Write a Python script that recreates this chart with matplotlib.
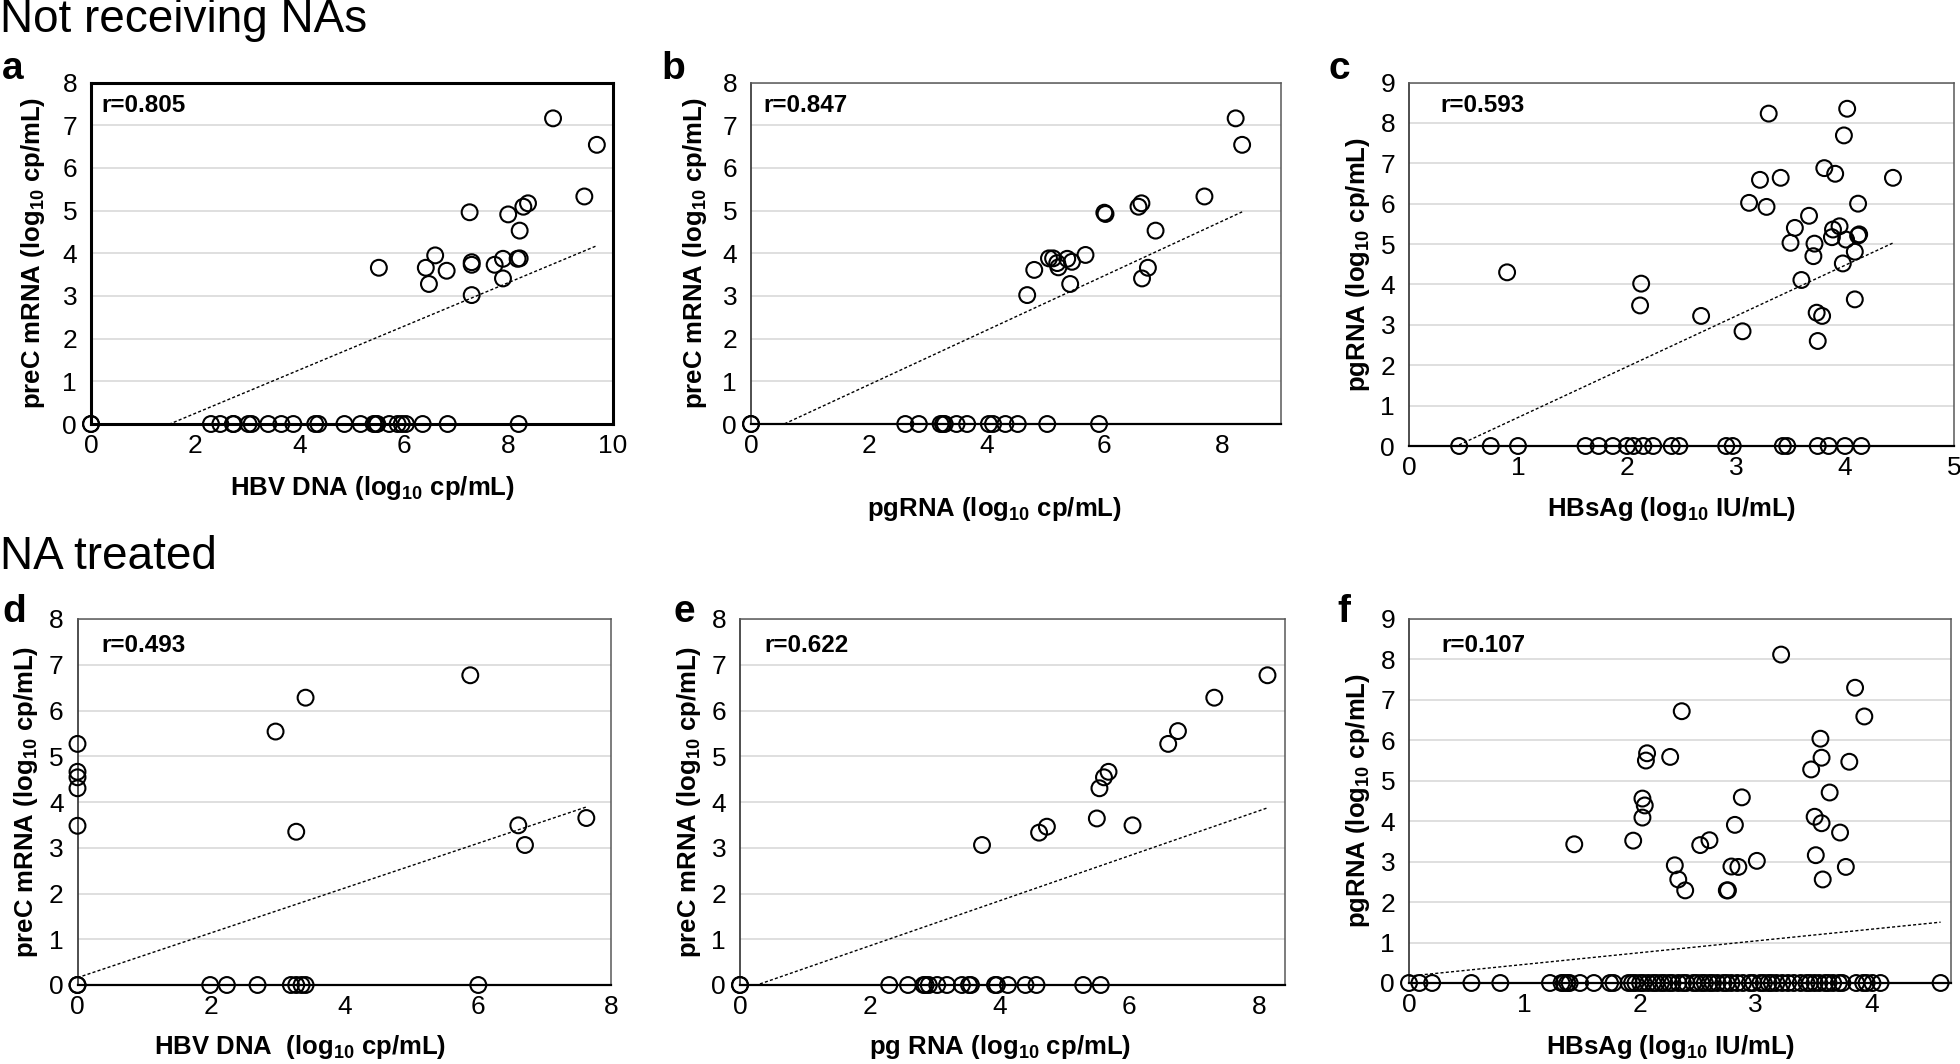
import matplotlib
matplotlib.use("Agg")
import numpy as np
import matplotlib.pyplot as plt
from matplotlib import font_manager

# ---- data (log10 values) ----
# detected points (x, y) and undetected points (x only, plotted at y = 0)
# a: HBV DNA vs preC mRNA (not receiving NAs)
a_x = [8.86, 9.70, 9.46, 7.26, 8.00, 8.29, 8.38, 8.22, 6.60, 5.52, 6.42, 6.48, 6.82,
       7.30, 7.30, 7.30, 7.74, 7.90, 7.90, 8.18, 8.22]
a_y = [7.16, 6.54, 5.33, 4.96, 4.91, 5.09, 5.17, 4.53, 3.95, 3.66, 3.66, 3.28, 3.59,
       3.79, 3.73, 3.02, 3.73, 3.87, 3.41, 3.87, 3.88]
a_zero = [0, 0, 2.30, 2.48, 2.72, 2.74, 3.02, 3.08, 3.40, 3.65, 3.88, 4.30, 4.36, 4.86,
          5.17, 5.42, 5.46, 5.49, 5.72, 5.88, 5.96, 6.04, 6.36, 6.84, 8.20]
# b: pgRNA vs preC mRNA
b_x = [8.23, 8.34, 7.70, 6.00, 6.02, 6.58, 6.63, 6.87, 5.68, 5.06, 5.13, 4.81, 5.20,
       5.22, 5.37, 5.45, 5.42, 4.69, 6.74, 6.64]
b_y = [7.16, 6.54, 5.33, 4.95, 4.92, 5.09, 5.17, 4.53, 3.96, 3.88, 3.88, 3.61, 3.77,
       3.67, 3.87, 3.80, 3.28, 3.02, 3.66, 3.41]
b_zero = [0, 0, 2.62, 2.85, 3.22, 3.26, 3.29, 3.49, 3.67, 4.04, 4.11, 4.32, 4.53, 5.03, 5.91]
# c: HBsAg vs pgRNA
c_x = [0.90, 2.13, 2.12, 2.68, 3.06, 3.12, 3.22, 3.28, 3.30, 3.41, 3.50, 3.54, 3.60,
       3.67, 3.72, 3.71, 3.74, 3.79, 3.75, 3.81, 3.91, 3.88, 3.89, 3.95, 3.99, 4.02,
       3.98, 4.01, 4.12, 4.12, 4.09, 4.09, 4.44, 4.13]
c_y = [4.30, 4.02, 3.48, 3.22, 2.84, 6.02, 6.59, 5.92, 8.23, 6.64, 5.03, 5.40, 4.11,
       5.70, 5.01, 4.70, 3.30, 3.22, 2.60, 6.88, 6.74, 5.17, 5.36, 5.44, 7.69, 8.35,
       4.52, 5.11, 5.21, 6.00, 4.81, 3.63, 6.64, 5.24]
c_zero = [0.46, 0.75, 1.00, 1.62, 1.74, 1.87, 2.00, 2.06, 2.15, 2.24, 2.41, 2.48, 2.91,
          2.97, 3.43, 3.47, 3.75, 3.85, 4.00, 4.15]
# d: HBV DNA vs preC mRNA (NA treated)
d_x = [0, 0, 0, 0, 0, 2.97, 3.42, 3.28, 5.89, 6.61, 6.71, 7.63]
d_y = [5.27, 4.66, 4.54, 4.30, 3.48, 5.54, 6.28, 3.35, 6.77, 3.49, 3.06, 3.65]
d_zero = [0, 0, 1.99, 2.24, 2.70, 3.20, 3.28, 3.36, 3.42, 6.01]
# e: pg RNA vs preC mRNA
e_x = [3.73, 4.61, 4.73, 5.50, 5.54, 5.61, 5.68, 6.05, 6.60, 6.75, 7.31, 8.13]
e_y = [3.06, 3.33, 3.46, 3.64, 4.30, 4.54, 4.66, 3.49, 5.27, 5.55, 6.28, 6.77]
e_zero = [0, 0, 2.30, 2.59, 2.83, 2.86, 2.91, 3.04, 3.19, 3.42, 3.53, 3.56, 3.93, 3.96,
          4.13, 4.40, 4.57, 5.29, 5.56]
# f: HBsAg vs pgRNA (NA treated)
f_x = [1.43, 1.94, 2.02, 2.02, 2.04, 2.05, 2.06, 2.26, 2.36, 2.30, 2.33, 2.39, 2.52,
       2.60, 2.75, 2.76, 2.79, 2.85, 2.82, 2.88, 3.01, 3.22, 3.48, 3.51, 3.52, 3.56,
       3.57, 3.57, 3.58, 3.64, 3.73, 3.78, 3.81, 3.86, 3.94]
f_y = [3.43, 3.52, 4.09, 4.56, 4.39, 5.50, 5.68, 5.59, 6.72, 2.91, 2.56, 2.29, 3.41,
       3.53, 2.29, 2.29, 2.88, 2.87, 3.91, 4.59, 3.02, 8.12, 5.28, 4.11, 3.16, 6.04,
       5.57, 3.95, 2.56, 4.71, 3.72, 2.87, 5.47, 7.30, 6.59]
f_zero = [0, 0.09, 0.20, 0.54, 0.79, 1.22, 1.32, 1.34, 1.37, 1.39, 1.48, 1.60, 1.74, 1.77,
          1.90, 1.93, 1.96, 2.00, 2.03, 2.07, 2.11, 2.14, 2.18, 2.21, 2.25, 2.28, 2.33,
          2.37, 2.40, 2.46, 2.49, 2.53, 2.56, 2.60, 2.63, 2.67, 2.72, 2.75, 2.79, 2.84,
          2.89, 2.95, 2.98, 3.04, 3.07, 3.11, 3.14, 3.18, 3.23, 3.28, 3.33, 3.39, 3.44,
          3.47, 3.51, 3.55, 3.60, 3.63, 3.67, 3.72, 3.75, 3.87, 3.93, 3.96, 4.01, 4.08, 4.60]

# linear trendlines (slope, intercept) and r values
trend = {"a": (0.510, -0.77), "b": (0.639, -0.36), "c": (1.256, -0.55),
         "d": (0.489, 0.16), "e": (0.492, -0.128), "f": (0.290, 0.17)}
r_vals = {"a": "0.805", "b": "0.847", "c": "0.593", "d": "0.493", "e": "0.622", "f": "0.107"}

sub = r"$_\mathbf{10}$"
xlabels = {"a": f"HBV DNA (log{sub} cp/mL)", "b": f"pgRNA (log{sub} cp/mL)",
           "c": f"HBsAg (log{sub} IU/mL)", "d": f"HBV DNA  (log{sub} cp/mL)",
           "e": f"pg RNA (log{sub} cp/mL)", "f": f"HBsAg (log{sub} IU/mL)"}
ylabels = {"a": f"preC mRNA (log{sub} cp/mL)", "b": f"preC mRNA (log{sub} cp/mL)",
           "c": f"pgRNA (log{sub} cp/mL)", "d": f"preC mRNA (log{sub} cp/mL)",
           "e": f"preC mRNA (log{sub} cp/mL)", "f": f"pgRNA (log{sub} cp/mL)"}

# ---- fonts ----
names = {f.name for f in font_manager.fontManager.ttflist}
NARROW = "Liberation Sans Narrow" if "Liberation Sans Narrow" in names else "Liberation Sans"
plt.rcParams["font.family"] = ["Liberation Sans", "DejaVu Sans"]
plt.rcParams["mathtext.fontset"] = "custom"
plt.rcParams["mathtext.rm"] = "Liberation Sans"
plt.rcParams["mathtext.bf"] = "Liberation Sans:bold"

W, H = 1960, 1064
fig = plt.figure(figsize=(W / 100, H / 100), dpi=100)

def box(l, t, r, b):
    return [l / W, 1 - b / H, (r - l) / W, (b - t) / H]

# layout in pixels: axes box, xlim, ylim, xticks, xlabel pos, ylabel x, r pos, letter pos
panels = {
    "a": dict(x=a_x, y=a_y, z=a_zero, box=(91, 82.5, 612.5, 424), xlim=(0, 10), ylim=(0, 8),
              xt=range(0, 11, 2), xl=(372, 488), yl=33, rp=(101, 106), lp=(2, 69)),
    "b": dict(x=b_x, y=b_y, z=b_zero, box=(751, 82.5, 1281, 424), xlim=(0, 9), ylim=(0, 8),
              xt=range(0, 9, 2), xl=(994, 509), yl=695, rp=(763, 106), lp=(661, 69)),
    "c": dict(x=c_x, y=c_y, z=c_zero, box=(1409, 82.5, 1954, 446), xlim=(0, 5), ylim=(0, 9),
              xt=range(0, 6), xl=(1672, 509), yl=1358, rp=(1440, 106), lp=(1329, 69)),
    "d": dict(x=d_x, y=d_y, z=d_zero, box=(77.5, 619, 611, 985), xlim=(0, 8), ylim=(0, 8),
              xt=range(0, 9, 2), xl=(300, 1047), yl=26, rp=(101, 646), lp=(2, 612)),
    "e": dict(x=e_x, y=e_y, z=e_zero, box=(740, 619, 1285, 985), xlim=(0, 8.4), ylim=(0, 8),
              xt=range(0, 9, 2), xl=(1000, 1047), yl=689, rp=(764, 646), lp=(673, 612)),
    "f": dict(x=f_x, y=f_y, z=f_zero, box=(1409, 619, 1951, 983), xlim=(0, 4.69), ylim=(0, 9),
              xt=range(0, 5), xl=(1671, 1047), yl=1358, rp=(1441, 646), lp=(1337, 612)),
}

for key, p in panels.items():
    l, t, r, b = p["box"]
    ax = fig.add_axes(box(l, t, r, b))
    x = np.concatenate([p["x"], p["z"]])
    y = np.concatenate([p["y"], np.zeros(len(p["z"]))])
    ax.scatter(x, y, s=130, facecolors="none", edgecolors="black", linewidths=1.5,
               zorder=4, clip_on=False)
    m, c0 = trend[key]
    xs = np.array([x.min(), x.max()])
    ax.plot(xs, m * xs + c0, color="black", lw=1.0, ls=(0, (2.2, 1.6)), zorder=3)
    ax.set_xlim(*p["xlim"]); ax.set_ylim(*p["ylim"])
    ax.set_xticks(list(p["xt"]))
    ax.set_yticks(range(0, p["ylim"][1] + 1))
    ax.yaxis.grid(True, color="#d9d9d9", lw=1.2)
    ax.set_axisbelow(True)
    ax.tick_params(length=0, labelsize=19, pad=7)
    ax.tick_params(axis="y", pad=10)
    for lab in ax.get_xticklabels() + ax.get_yticklabels():
        lab.set_fontfamily(NARROW)
    if key == "a":
        for s in ax.spines.values():
            s.set_color("black"); s.set_linewidth(2.2)
    else:
        for s in ("top", "right"):
            ax.spines[s].set_color("#595959"); ax.spines[s].set_linewidth(1.1)
        ax.spines["left"].set_color("#303030"); ax.spines["left"].set_linewidth(1.2)
        ax.spines["bottom"].set_color("black"); ax.spines["bottom"].set_linewidth(1.6)
    fig.text(p["rp"][0] / W, 1 - p["rp"][1] / H, f"r={r_vals[key]}", fontsize=17.5,
             fontweight="bold", family=NARROW, ha="left", va="center")
    fig.text(p["xl"][0] / W, 1 - p["xl"][1] / H, xlabels[key], fontsize=18.5,
             fontweight="bold", ha="center", va="center")
    fig.text(p["yl"] / W, 1 - ((t + b) / 2) / H, ylabels[key], fontsize=18.5,
             fontweight="bold", ha="center", va="center", rotation=90)
    fig.text(p["lp"][0] / W, 1 - p["lp"][1] / H, key, fontsize=28,
             fontweight="bold", ha="left", va="center")

fig.text(0.0, 1 - 20 / H, "Not receiving NAs", fontsize=33, ha="left", va="center")
fig.text(0.0, 1 - 557 / H, "NA treated", fontsize=33, ha="left", va="center")

fig.savefig("out.png", dpi=100, facecolor="white")
